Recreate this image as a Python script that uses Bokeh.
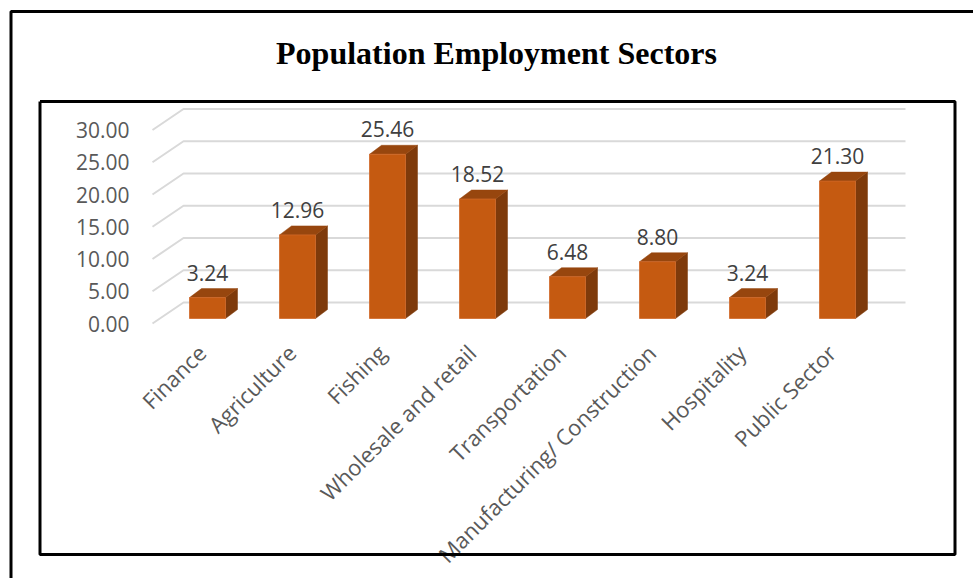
import numpy as np
from bokeh.plotting import figure
from bokeh.models import Range1d
from bokeh.core.properties import value
from bokeh.embed import file_html
from bokeh.resources import INLINE

# ---- data ----
title_text = "Population Employment Sectors"
categories = ["Finance", "Agriculture", "Fishing", "Wholesale and retail",
              "Transportation", "Manufacturing/ Construction", "Hospitality",
              "Public Sector"]
values = [3.24, 12.96, 25.46, 18.52, 6.48, 8.80, 3.24, 21.30]
y_ticks = [0, 5, 10, 15, 20, 25, 30]
y_tick_labels = ["0.00", "5.00", "10.00", "15.00", "20.00", "25.00", "30.00"]

# ---- geometry / styling ----
W, H = 973, 578
PX_X = 90.0      # pixels per category
PX_Y = 6.45      # pixels per value unit
X0 = 207.0       # pixel of first category centre
Y0 = 318.0       # pixel of value 0 (bar plane)

FONT = "Open Sans"
FRONT_FACE = "#C55A11"
TOP_FACE = "#97460E"
SIDE_FACE = "#7E3A0B"
GRID = "#D9D9D9"

p = figure(width=W, height=H,
           x_range=Range1d(-X0 / PX_X, (W - X0) / PX_X),
           y_range=Range1d(-(H - Y0) / PX_Y, Y0 / PX_Y),
           min_border=0, toolbar_location=None, output_backend="svg",
           x_axis_location=None, y_axis_location=None)
p.grid.visible = False
p.outline_line_color = None
p.background_fill_color = "white"
p.border_fill_color = "white"
p.extra_x_ranges = {"px": Range1d(0, W)}
p.extra_y_ranges = {"px": Range1d(H, 0)}

xs = np.arange(len(categories), dtype=float)
vals = np.array(values, dtype=float)

# ---- back-wall grid lines (3D look) ----
front_x = (152 - X0) / PX_X
back_x = (183 - X0) / PX_X
right_x = (905 - X0) / PX_X
front_dy = -5 / PX_Y
back_dy = 16 / PX_Y
gx, gy = [], []
for t in y_ticks:
    gx.append([front_x, back_x, right_x])
    gy.append([t + front_dy, t + back_dy, t + back_dy])
p.multi_line(xs=gx, ys=gy, line_color=GRID, line_width=2)

# ---- 3D bars ----
hw = 18 / PX_X
sdx = 12 / PX_X
sdy = 9 / PX_Y
side_x, side_y, top_x, top_y = [], [], [], []
for x, v in zip(xs, vals):
    side_x.append([x + hw, x + hw + sdx, x + hw + sdx, x + hw])
    side_y.append([0, sdy, v + sdy, v])
    top_x.append([x - hw, x + hw, x + hw + sdx, x - hw + sdx])
    top_y.append([v, v, v + sdy, v + sdy])
p.patches(xs=side_x, ys=side_y, fill_color=SIDE_FACE, line_color=SIDE_FACE, line_width=0.5)
p.patches(xs=top_x, ys=top_y, fill_color=TOP_FACE, line_color=TOP_FACE, line_width=0.5)
p.quad(left=xs - hw, right=xs + hw, bottom=0, top=vals,
       fill_color=FRONT_FACE, line_color="#D0682A", line_width=0.8)

# ---- data labels ----
p.text(x=xs, y=vals, text=[f"{v:.2f}" for v in values], y_offset=-25,
       text_align="center", text_baseline="middle",
       text_font=value(FONT), text_font_size="21px", text_color="#404040")

# ---- y tick labels ----
tick_x = (129 - X0) / PX_X
p.text(x=[tick_x] * len(y_ticks), y=[t + front_dy for t in y_ticks], text=y_tick_labels,
       text_align="right", text_baseline="middle",
       text_font=value(FONT), text_font_size="21px", text_color="#595959")

# ---- category labels (rotated) ----
cat_dx = -6 / PX_X
cat_y = (Y0 - 348) / PX_Y
p.text(x=xs + cat_dx, y=[cat_y] * len(categories), text=categories,
       angle=np.pi / 4, text_align="right", text_baseline="middle",
       text_font=value(FONT), text_font_size="22px", text_color="#595959")

# ---- frames and title (pixel coordinates) ----
p.line(x=[39.5, 954.5, 954.5, 39.5, 39.5], y=[101, 101, 554, 554, 101],
       line_color="black", line_width=3, x_range_name="px", y_range_name="px")
p.line(x=[10.5, 10.5, 985], y=[590, 11, 11],
       line_color="black", line_width=3, x_range_name="px", y_range_name="px")
p.text(x=[496], y=[52], text=[title_text], text_align="center", text_baseline="middle",
       text_font=value("Liberation Serif"), text_font_style="bold", text_font_size="32px",
       text_color="black", x_range_name="px", y_range_name="px")

open("out.html", "w").write(file_html(p, INLINE))
